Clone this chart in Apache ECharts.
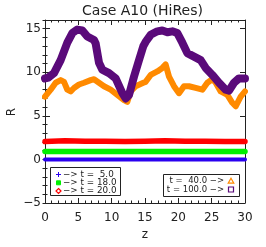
<!DOCTYPE html>
<html><head><meta charset="utf-8">
<script src="https://cdn.jsdelivr.net/npm/echarts@6/dist/echarts.min.js"></script>
<style>html,body{margin:0;padding:0;background:#fff}#c{width:266px;height:247px}</style>
</head><body><div id="c"></div>
<script>
const xTicks = [0, 5, 10, 15, 20, 25, 30];
const yTicks = [-5, 0, 5, 10, 15];
const yName = 'R';
const legendLeft = ['\u2212> t =  5.0', '\u2212> t = 18.0', '\u2212> t = 20.0'];
const legendRight = ['t =  40.0 \u2212>', 't = 100.0 \u2212>'];

const zBlue = [0, 10, 20, 30];
const rBlue = [0.0, 0.0, 0.0, 0.0];
const zGreen = [0, 10, 20, 30];
const rGreen = [0.9, 0.9, 0.9, 0.9];
const zRed = [0, 3, 6, 9, 12, 15, 18, 21, 24, 27, 30];
const rRed = [2.05, 2.15, 2.1, 2.1, 2.05, 2.1, 2.15, 2.1, 2.1, 2.05, 2.05];
const zOrange = [0, 0.85, 1.6, 2.35, 2.85, 3.35, 3.85, 4.35, 5.1, 5.85, 6.85, 7.35, 8.1, 8.85, 9.85, 10.85, 11.85, 12.35, 12.85, 13.6, 14.75, 15.1, 15.85, 16.85, 17.6, 18.1, 18.6, 19.35, 20.1, 20.85, 21.6, 22.6, 23.6, 24.35, 25.1, 25.6, 26.35, 27.35, 28.1, 28.6, 29.35, 30];
const rOrange = [7.2, 8.0, 8.8, 9.1, 8.9, 8.0, 7.8, 8.2, 8.6, 8.8, 9.1, 9.2, 8.8, 8.4, 8.0, 7.4, 6.8, 6.6, 7.8, 8.4, 8.8, 8.9, 9.7, 10.1, 10.5, 10.9, 9.5, 8.4, 7.6, 8.4, 8.4, 8.2, 8.0, 8.8, 9.2, 8.8, 7.8, 7.4, 6.5, 6.1, 7.2, 7.8];
const zPurple = [0, 0.5, 1.35, 2.35, 3.35, 4.1, 4.85, 5.6, 6.35, 7.35, 7.6, 8.1, 8.6, 9.6, 10.6, 11.6, 12.1, 12.6, 13.35, 14.1, 14.75, 15.1, 15.85, 16.85, 17.6, 18.35, 19.1, 19.85, 20.6, 21.35, 22.35, 23.35, 24.1, 25.1, 26.1, 27.1, 27.6, 28.35, 29.1, 30];
const rPurple = [9.3, 9.4, 9.9, 11.4, 13.4, 14.5, 14.9, 14.8, 14.1, 13.7, 13.3, 11.1, 10.3, 9.9, 9.3, 7.6, 7.0, 7.4, 9.5, 11.4, 13.0, 13.5, 14.3, 14.7, 14.8, 14.6, 14.7, 14.5, 13.4, 12.2, 11.8, 11.4, 10.5, 9.7, 8.8, 8.0, 7.9, 8.8, 9.3, 9.3];

const pairs = (z, r) => z.map((v, i) => [v, r[i]]);
const FONT = 'DejaVu Sans';
const TXT = '#222';
const C = { blue: '#2a00f0', green: '#00f000', red: '#ff0000', orange: '#ff8a00', purple: '#5a0a7a' };

const chart = echarts.init(document.getElementById('c'), null, { renderer: 'canvas' });
const grid = { left: 45, right: 21, top: 20, bottom: 44, containLabel: false, outerBoundsMode: 'none' };
const xBase = { type: 'value', min: 0, max: 30, splitLine: { show: false } };
const yBase = { type: 'value', min: -5, max: 16, splitLine: { show: false } };

function ser(name, z, r, color, w) {
  return { name, type: 'line', data: pairs(z, r), showSymbol: false, symbol: 'none',
    lineStyle: { color, width: w, cap: 'round', join: 'round' }, itemStyle: { color },
    xAxisIndex: 0, yAxisIndex: 0, animation: false, silent: true, clip: true };
}

const g = [];
g.push({ type: 'text', style: { text: 'Case A10 (HiRes)', x: 142.5, y: 11, fill: TXT, font: '14px ' + FONT, align: 'center', textAlign: 'center', verticalAlign: 'middle', textVerticalAlign: 'middle' } });
g.push({ type: 'text', x: 12, y: 112, rotation: Math.PI / 2, style: { text: yName, x: 0, y: 0, fill: TXT, font: '12px ' + FONT, align: 'center', textAlign: 'center', verticalAlign: 'middle', textVerticalAlign: 'middle' } });
// left legend box
g.push({ type: 'rect', shape: { x: 50.5, y: 167.5, width: 70, height: 28 }, style: { fill: '#fff', stroke: '#222', lineWidth: 1 } });
const lrows = [174.5, 182.8, 191];
lrows.forEach((y, i) => {
  g.push({ type: 'text', style: { text: legendLeft[i], x: 63, y: y, fill: TXT, font: '8.8px ' + FONT, textVerticalAlign: 'middle', verticalAlign: 'middle' } });
});
g.push({ type: 'group', children: [
  { type: 'line', shape: { x1: 56, y1: lrows[0], x2: 61, y2: lrows[0] }, style: { stroke: C.blue, lineWidth: 1 } },
  { type: 'line', shape: { x1: 58.5, y1: lrows[0] - 2.5, x2: 58.5, y2: lrows[0] + 2.5 }, style: { stroke: C.blue, lineWidth: 1 } },
  { type: 'rect', shape: { x: 56.5, y: lrows[1] - 2, width: 4, height: 4 }, style: { fill: C.green, stroke: C.green, lineWidth: 1 } },
  { type: 'polygon', shape: { points: [[58.5, lrows[2] - 2.5], [61, lrows[2]], [58.5, lrows[2] + 2.5], [56, lrows[2]]] }, style: { fill: '#fff', stroke: C.red, lineWidth: 1.2 } }
] });
// right legend box
g.push({ type: 'rect', shape: { x: 163.5, y: 174.5, width: 76, height: 22 }, style: { fill: '#fff', stroke: '#222', lineWidth: 1 } });
const rrows = [181, 189.5];
rrows.forEach((y, i) => {
  g.push({ type: 'text', style: { text: legendRight[i], x: 224, y: y, fill: TXT, font: '8.5px ' + FONT, align: 'right', textAlign: 'right', verticalAlign: 'middle', textVerticalAlign: 'middle' } });
});
g.push({ type: 'polygon', shape: { points: [[231, rrows[0] - 2.8], [233.8, rrows[0] + 2.2], [228.2, rrows[0] + 2.2]] }, style: { fill: '#fff', stroke: C.orange, lineWidth: 1.2 } });
g.push({ type: 'rect', shape: { x: 228.5, y: rrows[1] - 2.5, width: 5, height: 5 }, style: { fill: '#fff', stroke: C.purple, lineWidth: 1.2 } });

const tickCommon = { color: '#222' };
chart.setOption({
  animation: false,
  backgroundColor: '#fff',
  grid: grid,
  xAxis: [
    Object.assign({}, xBase, { position: 'bottom', interval: 5, name: 'z', nameLocation: 'middle', nameGap: 22,
      nameTextStyle: { fontFamily: FONT, fontSize: 12, color: TXT },
      axisLine: { show: true, onZero: false, lineStyle: { color: '#222', width: 1 } },
      axisTick: { show: true, inside: true, length: 5, lineStyle: tickCommon },
      minorTick: { show: true, splitNumber: 5, length: 2.5, lineStyle: tickCommon },
      axisLabel: { fontFamily: FONT, fontSize: 12, color: TXT, margin: 9, formatter: v => xTicks.includes(v) ? String(v) : '' } }),
    Object.assign({}, xBase, { position: 'top', interval: 5,
      axisLine: { show: true, onZero: false, lineStyle: { color: '#222', width: 1 } },
      axisTick: { show: true, inside: true, length: 5, lineStyle: tickCommon },
      minorTick: { show: true, splitNumber: 5, length: 2.5, lineStyle: tickCommon },
      axisLabel: { show: false } })
  ],
  yAxis: [
    Object.assign({}, yBase, { position: 'left', interval: 5,
      axisLine: { show: true, onZero: false, lineStyle: { color: '#222', width: 1 } },
      axisTick: { show: true, inside: true, length: 5, lineStyle: tickCommon },
      axisLabel: { fontFamily: FONT, fontSize: 12, color: TXT, margin: 4, showMaxLabel: false,
        formatter: v => yTicks.includes(v) ? (v < 0 ? '\u2212' + Math.abs(v) : String(v)) : '' } }),
    Object.assign({}, yBase, { position: 'left', interval: 1, offset: 0,
      axisLine: { show: false }, axisTick: { show: true, inside: true, length: 2.5, lineStyle: tickCommon },
      axisLabel: { show: false } }),
    Object.assign({}, yBase, { position: 'right', interval: 5, offset: 0,
      axisLine: { show: true, onZero: false, lineStyle: { color: '#222', width: 1 } },
      axisTick: { show: true, inside: true, length: 5, lineStyle: tickCommon },
      axisLabel: { show: false } }),
    Object.assign({}, yBase, { position: 'right', interval: 1, offset: 0,
      axisLine: { show: false }, axisTick: { show: true, inside: true, length: 2.5, lineStyle: tickCommon },
      axisLabel: { show: false } })
  ],
  series: [
    ser('t=5', zBlue, rBlue, C.blue, 4),
    ser('t=18', zGreen, rGreen, C.green, 5.5),
    ser('t=20', zRed, rRed, C.red, 5.5),
    ser('t=40', zOrange, rOrange, C.orange, 6),
    ser('t=100', zPurple, rPurple, C.purple, 8)
  ],
  graphic: g
});
</script></body></html>
